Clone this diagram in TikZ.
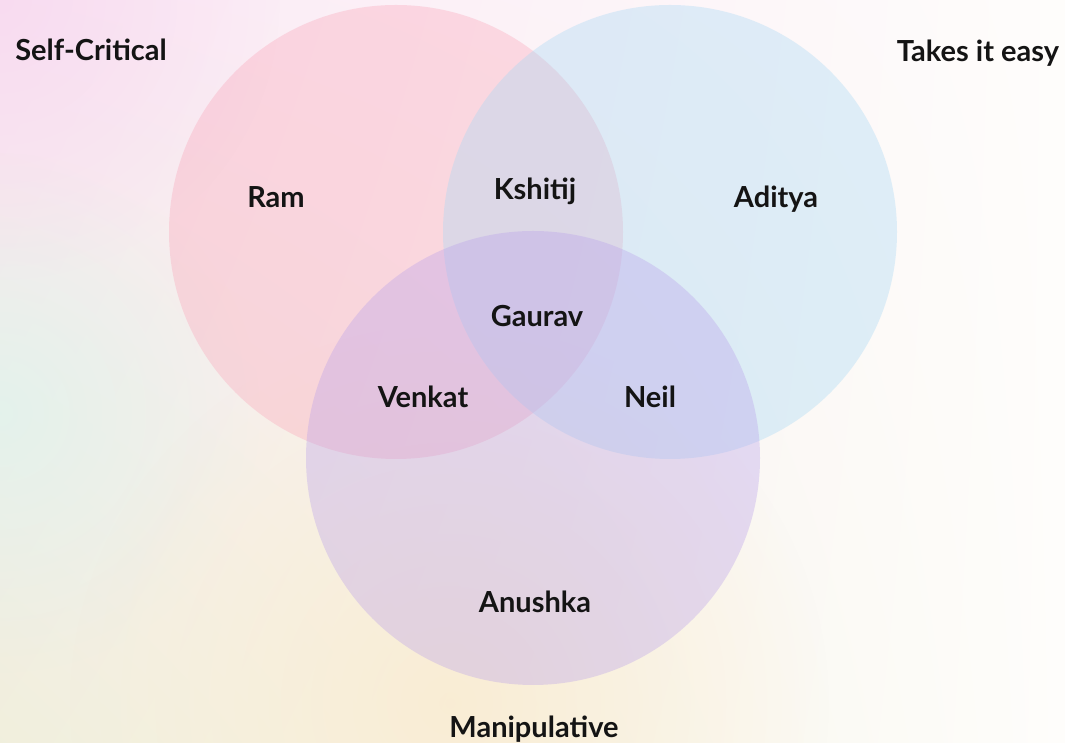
\documentclass[tikz,border=0pt]{standalone}
\usepackage{fontspec}
\setmainfont{Lato}
\usetikzlibrary{fadings, shadings}
\definecolor{bgpink}{RGB}{248,218,240}
\definecolor{bggreen}{RGB}{226,243,236}
\definecolor{bgwarm}{RGB}{250,236,210}
\definecolor{bgwhite}{RGB}{254,253,251}
\definecolor{selfpink}{RGB}{250,165,185}
\definecolor{easyblue}{RGB}{165,215,245}
\definecolor{manippurple}{RGB}{185,160,235}
\tikzfading[name=glow, inner color=transparent!0, outer color=transparent!100]
\tikzset{
  setcirc/.style={circle, minimum size=454pt, inner sep=0pt, draw=none,
                  fill=#1, fill opacity=0.35},
  setname/.style={font=\fontsize{29}{34}\selectfont\bfseries,
                  text=black!92, anchor=base, inner sep=0pt},
}
\begin{document}
\begin{tikzpicture}[x=1pt, y=1pt]
  \useasboundingbox (0,0) rectangle (1065,743);
  %% background
  \shade[upper left=bgpink!60!bgwhite, upper right=bgwhite,
         lower left=bgwarm!60!bggreen, lower right=bgwhite]
    (0,0) rectangle (1065,743);
  \fill[bggreen, path fading=glow, fill opacity=0.9] (0,330) circle (260);
  \fill[bgwarm, path fading=glow, fill opacity=0.9] (450,40) circle (380);
  \fill[bgpink, path fading=glow, fill opacity=0.9] (0,743) circle (280);
  %% sets
  \node[setcirc=selfpink]    (self)  at (396,511) {};
  \node[setcirc=easyblue]    (easy)  at (670,511) {};
  \node[setcirc=manippurple] (manip) at (533,285) {};
  %% set titles
  \node[setname] (tself)  at (91,682)  {Self-Critical};
  \node[setname] (teasy)  at (978,681) {Takes it easy};
  \node[setname] (tmanip) at (534,5)   {Manipulative};
  %% members
  \node[setname] (ram)     at (276,535) {Ram};
  \node[setname] (kshitij) at (535,543) {Kshitij};
  \node[setname] (aditya)  at (776,535) {Aditya};
  \node[setname] (gaurav)  at (537,416) {Gaurav};
  \node[setname] (venkat)  at (423,335) {Venkat};
  \node[setname] (neil)    at (650,335) {Neil};
  \node[setname] (anushka) at (535,130) {Anushka};
\end{tikzpicture}
\end{document}
